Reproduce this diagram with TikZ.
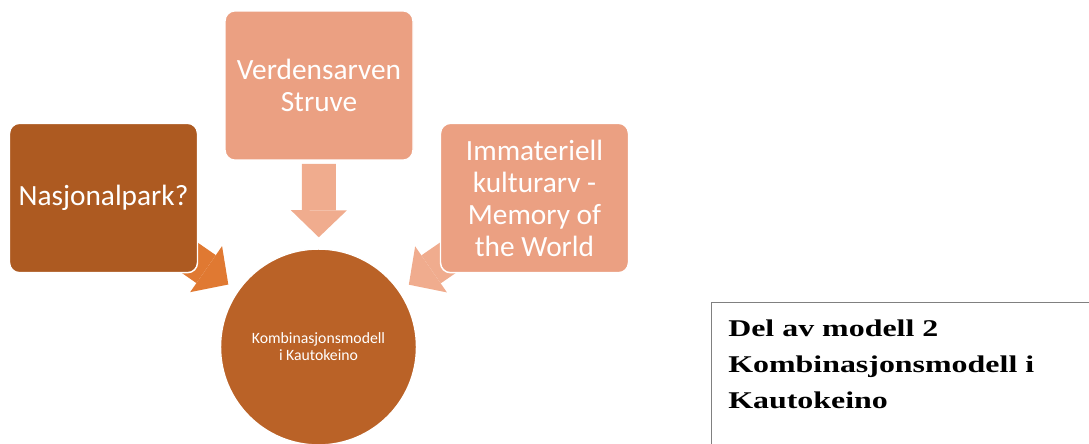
\documentclass[tikz,border=0pt]{standalone}
\usepackage{fontspec}
\setmainfont{Carlito}
\newfontfamily\notefont{Liberation Serif}[FakeStretch=1.33]
\usetikzlibrary{arrows.meta,backgrounds}
\definecolor{parkbrown}{HTML}{AD5A21}
\definecolor{circbrown}{HTML}{BA6227}
\definecolor{parkarrow}{HTML}{E07932}
\definecolor{lightbox}{HTML}{EBA082}
\definecolor{lightarrow}{HTML}{F0AC8E}
\definecolor{notegray}{HTML}{808080}
\begin{document}
\begin{tikzpicture}[x=0.75pt,y=-0.75pt,
  every node/.style={align=center,text=white},
  box/.style={rounded corners=7.5pt,draw=white,line width=1.1pt,
    minimum width=141pt,minimum height=112pt,
    font=\fontsize{22}{24}\selectfont},
  blockarrow/.style={line width=25.5pt,
    -{Triangle[length=20.25pt,width=42pt,line width=0pt]}}]
\useasboundingbox (0,0) rectangle (1089,443);
\node (nasj) [box,fill=parkbrown] at (103.5,198) {Nasjonalpark?};
\node (verd) [box,fill=lightbox] at (319,85.5) {Verdensarven\\Struve};
\node (imm) [box,fill=lightbox] at (534.5,198)
  {Immateriell\\kulturarv -\\Memory of\\the World};
\node (circ) [circle,fill=circbrown,draw=white,line width=1.1pt,
  minimum size=147pt,inner sep=0pt,font=\fontsize{11.8}{12.8}\selectfont]
  at (318.5,347) {Kombinasjonsmodell\\i Kautokeino};

\begin{scope}[on background layer]
  \draw [blockarrow,parkarrow,shorten >=8.25pt] (nasj.center) -- (circ);
  \draw [blockarrow,lightarrow,shorten >=8.25pt] (imm.center) -- (circ);
  \draw [blockarrow,lightarrow,shorten <=2.25pt,shorten >=8.25pt]
    (verd.south) -- (circ);
\end{scope}

\node (note) [draw=notegray,line width=1.1pt,anchor=north west,
  minimum width=320pt,minimum height=130pt] at (711,302) {};
\node (notetext) [anchor=north west,inner sep=0pt,align=left,text=black,
  font=\notefont\bfseries\fontsize{18}{27}\selectfont]
  at (728,320) {Del av modell 2\\Kombinasjonsmodell i\\Kautokeino};
\end{tikzpicture}
\end{document}
